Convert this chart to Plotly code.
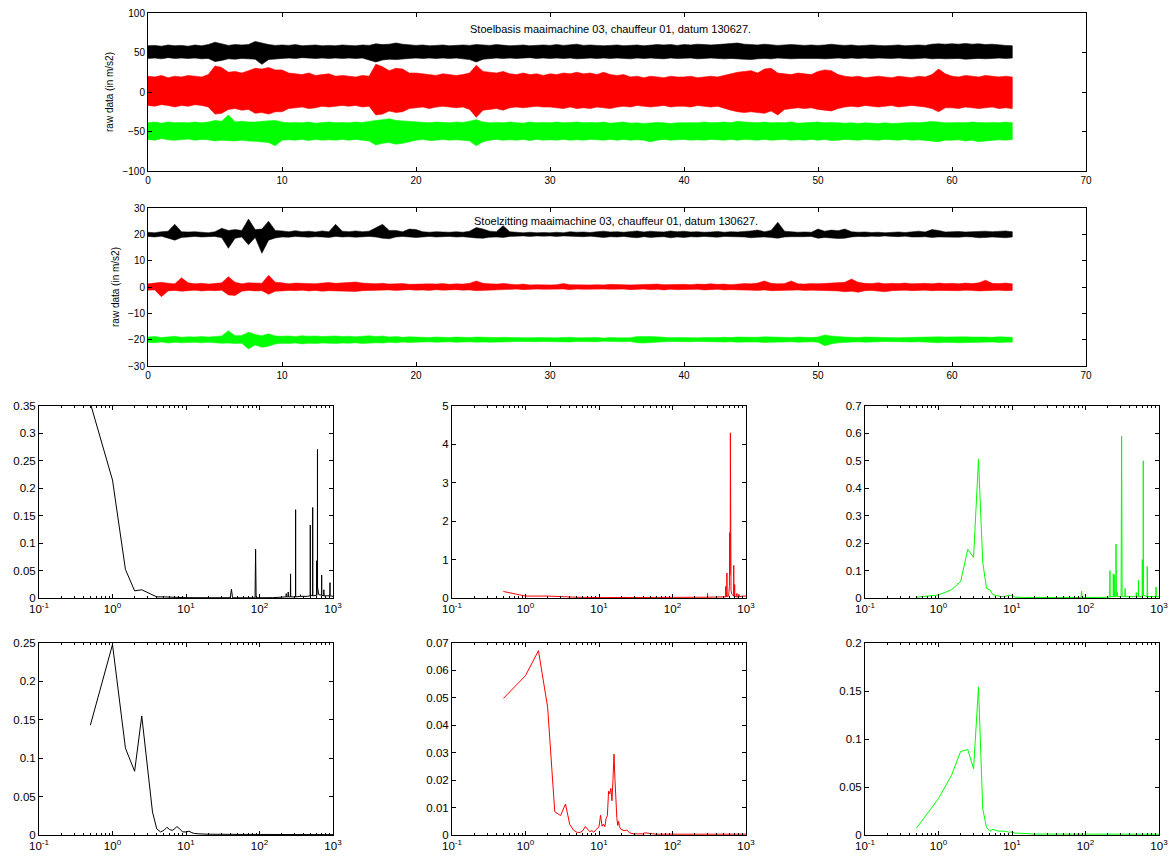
import plotly.graph_objects as go

# ---------------- time axis (sample times, s) ----------------
t_sec = [i / 2 for i in range(130)]  # 0 .. 64.5 s

# ---------------- panel 1: Stoelbasis, envelope (upper / lower) ----------------
bk_hi = [58.5, 59.0, 58.0, 59.5, 58.5, 59.0, 58.0, 59.5, 58.5, 60.0,
         63.0, 60.5, 59.0, 60.0, 59.5, 60.0, 64.0, 62.0, 60.0, 59.0,
         59.5, 59.0, 60.0, 58.5, 59.0, 59.5, 58.5, 59.0, 58.5, 59.5,
         59.0, 58.5, 59.5, 59.0, 61.0, 60.0, 60.5, 62.0, 60.5, 59.5,
         59.0, 59.5, 58.5, 59.0, 59.5, 58.5, 59.0, 59.5, 59.0, 60.0,
         59.5, 59.0, 60.0, 59.5, 58.5, 59.0, 59.5, 58.5, 59.0, 59.5,
         59.0, 60.0, 59.0, 59.5, 60.5, 59.0, 59.5, 59.0, 58.5, 59.0,
         59.5, 58.5, 59.0, 59.5, 58.5, 59.0, 60.0, 59.5, 60.0, 59.0,
         60.0, 59.5, 60.5, 60.0, 59.5, 60.0, 60.5, 61.0, 62.0, 60.5,
         60.0, 59.5, 60.5, 59.5, 59.0, 59.5, 60.0, 59.5, 59.0, 59.5,
         59.0, 59.5, 60.5, 59.5, 59.0, 59.5, 58.5, 59.0, 59.5, 59.0,
         58.5, 59.0, 59.5, 58.5, 59.0, 59.5, 59.0, 60.5, 61.0, 60.5,
         61.0, 60.5, 61.5, 60.5, 61.0, 60.0, 60.5, 59.5, 59.0, 58.5]
bk_lo = [42.5, 43.0, 42.0, 43.5, 42.5, 43.0, 42.5, 43.0, 42.0, 42.5,
         38.5, 40.0, 42.0, 41.5, 42.5, 42.0, 41.5, 35.0, 41.0, 42.0,
         42.5, 43.0, 42.5, 43.5, 43.0, 42.5, 43.0, 42.5, 43.0, 42.5,
         43.0, 42.5, 43.0, 41.0, 38.0, 40.5, 41.5, 41.0, 42.0, 42.5,
         43.0, 42.5, 43.0, 42.5, 43.0, 42.5, 43.0, 42.0, 41.0, 38.0,
         41.5, 42.5, 43.0, 42.5, 43.0, 42.5, 43.0, 43.5, 42.5, 43.0,
         42.5, 43.0, 42.5, 43.0, 42.0, 42.5, 43.0, 42.5, 43.0, 42.5,
         43.0, 42.5, 42.0, 43.0, 42.5, 43.0, 42.5, 42.0, 43.0, 42.5,
         42.5, 43.0, 42.0, 42.5, 43.0, 42.5, 42.0, 42.5, 42.0, 41.5,
         41.0, 42.0, 42.5, 42.0, 43.0, 42.5, 42.0, 42.5, 43.0, 42.5,
         42.5, 42.0, 42.5, 43.0, 42.5, 43.0, 42.5, 43.0, 42.5, 43.0,
         43.0, 42.5, 43.0, 42.5, 42.0, 42.5, 43.0, 42.0, 42.5, 42.0,
         42.0, 42.5, 41.5, 42.0, 42.5, 42.0, 42.5, 43.0, 42.5, 43.0]
rd_hi = [20, 19, 21, 18, 20, 19, 21, 20, 19, 22,
         33, 31, 25, 26, 24, 27, 30, 29, 31, 28,
         28, 24, 23, 22, 24, 21, 22, 23, 20, 21,
         20, 19, 21, 20, 35, 32, 27, 30, 29, 24,
         24, 23, 22, 21, 23, 22, 21, 22, 24, 34,
         26, 25, 24, 26, 23, 22, 24, 22, 23, 21,
         23, 22, 24, 23, 25, 23, 24, 22, 25, 22,
         21, 22, 19, 20, 18, 20, 19, 18, 20, 19,
         19, 20, 18, 19, 20, 19, 21, 23, 25, 26,
         27, 24, 29, 30, 24, 23, 22, 24, 23, 22,
         26, 28, 27, 22, 20, 19, 20, 18, 19, 20,
         19, 18, 20, 19, 18, 20, 19, 22, 29, 23,
         20, 19, 21, 20, 19, 21, 20, 19, 20, 19]
rd_lo = [-17, -18, -16, -17, -19, -17, -18, -16, -17, -19,
         -28, -27, -22, -21, -23, -22, -27, -26, -28, -25,
         -25, -21, -20, -19, -21, -20, -18, -19, -18, -17,
         -18, -17, -19, -18, -29, -28, -24, -26, -25, -21,
         -20, -19, -21, -19, -18, -19, -20, -19, -22, -32,
         -23, -22, -21, -23, -20, -19, -20, -19, -18, -19,
         -19, -20, -21, -19, -21, -20, -21, -19, -20, -21,
         -19, -18, -19, -17, -18, -19, -18, -17, -19, -18,
         -18, -19, -17, -18, -19, -18, -20, -23, -25, -26,
         -25, -26, -27, -24, -29, -22, -21, -20, -21, -20,
         -22, -23, -24, -21, -19, -18, -19, -17, -18, -19,
         -18, -17, -19, -18, -17, -18, -19, -21, -25, -20,
         -20, -21, -19, -20, -21, -20, -19, -21, -20, -21]
gr_hi = [-39, -38, -39.5, -38, -39, -38.5, -39, -38, -39, -38,
         -36, -37, -29, -38, -37, -38, -38, -37, -36.5, -36,
         -38, -39, -38.5, -39, -38, -39.5, -39, -38, -39, -38.5,
         -39, -38, -38.5, -37, -36, -35, -34, -36, -36.5, -37,
         -38, -38.5, -39, -38, -38.5, -39, -38, -38.5, -37, -35,
         -38, -39, -38.5, -39, -38, -39, -39.5, -38, -39, -38.5,
         -39, -38, -39, -38.5, -38, -39, -38.5, -39, -38, -39.5,
         -39, -38, -39.5, -39, -40, -39, -38.5, -39, -40, -39,
         -39, -38.5, -39, -38, -39, -38.5, -38, -39, -37, -38,
         -38.5, -39, -38, -39, -38.5, -39, -38, -39.5, -39, -38.5,
         -38, -39, -38.5, -39, -39.5, -39, -40, -39, -39.5, -40,
         -39, -40, -39.5, -39, -38.5, -39, -38, -37.5, -38, -39,
         -39, -38.5, -39, -38, -38.5, -39, -38.5, -39, -38, -39]
gr_lo = [-60, -61, -59, -60.5, -61, -60, -59.5, -61, -60, -60.5,
         -62, -61, -61.5, -62, -61, -62, -62.5, -63, -64, -68,
         -61, -60.5, -61, -60, -61.5, -60, -61, -60.5, -61, -60,
         -61, -60, -61, -62, -67, -65, -64, -66, -65, -63,
         -61, -60, -61.5, -61, -60, -61, -60.5, -61, -62, -68,
         -63, -61, -60, -61, -60.5, -61, -60, -61.5, -60, -61,
         -60.5, -61, -60, -61, -60.5, -61, -60, -60.5, -61, -60,
         -61, -60, -61, -60.5, -61, -63, -61, -60, -61, -60.5,
         -60, -61, -60.5, -61, -60, -60.5, -61, -60, -61, -60,
         -60.5, -61, -60, -61, -60.5, -60, -61, -60.5, -61, -60,
         -61, -60, -61.5, -61, -60, -60.5, -61, -60, -60.5, -61,
         -60, -60.5, -61, -60, -61, -60.5, -61, -62, -63, -61,
         -61, -60.5, -62, -61, -63, -62, -61, -60.5, -61, -60]

# ---------------- panel 2: Stoelzitting, envelope (upper / lower) ----------------
zbk_hi = [20.8, 20.6, 21.0, 21.2, 23.8, 21.0, 20.9, 21.0, 20.8, 20.6,
          21.0, 22.3, 21.5, 21.8, 21.5, 25.8, 21.8, 22.0, 25.0, 21.5,
          21.3, 21.0, 21.4, 21.0, 21.2, 20.9, 21.3, 21.0, 23.8, 21.2,
          21.0, 21.3, 21.0, 21.2, 22.5, 23.8, 21.5, 21.5, 21.0, 22.0,
          21.8, 21.0, 20.8, 21.0, 20.9, 20.8, 21.0, 20.8, 21.2, 22.6,
          22.0, 21.2, 21.0, 23.3, 21.0, 20.8, 20.6, 20.8, 20.6, 20.7,
          20.6, 20.8, 20.6, 21.0, 20.8, 20.9, 20.7, 21.0, 21.2, 20.9,
          21.0, 20.8, 21.1, 21.3, 20.9, 21.2, 21.0, 20.9, 21.3, 21.0,
          21.2, 20.9, 21.0, 20.8, 20.9, 21.1, 20.8, 21.0, 20.9, 21.0,
          21.3, 21.6, 21.0, 21.5, 24.6, 21.2, 20.9, 20.8, 20.9, 20.8,
          22.0, 21.2, 21.6, 21.4, 22.0, 21.0, 20.8, 20.9, 20.7, 20.8,
          20.6, 20.8, 20.9, 20.7, 21.0, 21.2, 20.9, 21.8, 21.5, 20.9,
          21.0, 21.1, 20.9, 21.0, 21.3, 21.2, 21.0, 21.1, 21.3, 21.0]
zbk_lo = [19.2, 19.0, 19.3, 18.5, 17.8, 18.8, 19.0, 19.2, 19.0, 19.1,
          19.2, 18.7, 14.7, 18.5, 19.0, 16.0, 18.8, 12.8, 17.8, 18.6,
          19.0, 18.9, 19.2, 19.0, 18.9, 19.1, 19.0, 18.8, 19.2, 19.0,
          19.1, 18.9, 19.0, 19.2, 19.0, 18.5, 18.3, 19.0, 19.2, 19.0,
          18.8, 19.1, 19.2, 19.0, 19.1, 19.2, 19.0, 19.1, 18.9, 18.6,
          18.5, 18.9, 19.0, 18.8, 19.2, 19.3, 19.4, 19.2, 19.4, 19.3,
          19.4, 19.2, 19.4, 19.3, 19.2, 19.1, 19.3, 19.0, 18.8, 19.1,
          19.0, 19.2, 18.9, 18.7, 19.1, 18.8, 19.0, 19.1, 18.7, 19.0,
          18.8, 19.1, 19.0, 19.2, 19.1, 18.9, 19.2, 19.0, 19.1, 19.0,
          18.7, 18.9, 19.0, 18.8, 18.5, 19.0, 19.1, 19.2, 19.1, 19.2,
          18.5, 18.8, 18.6, 18.4, 18.5, 19.0, 19.2, 19.1, 19.3, 19.2,
          19.4, 19.2, 19.1, 19.3, 19.0, 19.0, 19.1, 18.8, 19.0, 19.1,
          19.0, 18.9, 19.1, 19.0, 18.7, 18.8, 19.0, 18.9, 18.7, 19.0]
zrd_hi = [1.2, 1.5, 1.8, 1.4, 1.2, 3.5, 1.6, 1.2, 1.4, 1.1,
          1.3, 1.6, 3.9, 1.8, 1.2, 1.6, 1.5, 1.4, 4.5, 1.8,
          1.6, 1.2, 1.5, 1.4, 1.3, 1.2, 1.5, 1.7, 1.4, 1.5,
          1.8, 1.9, 1.5, 1.3, 1.2, 1.4, 1.1, 1.2, 1.3, 1.0,
          1.1, 1.3, 1.2, 1.1, 1.3, 1.0, 1.2, 1.1, 1.4, 2.3,
          1.4, 1.2, 1.1, 1.3, 1.0, 0.9, 1.1, 0.8, 0.9, 0.8,
          0.8, 0.9, 1.3, 0.9, 0.8, 0.9, 0.8, 0.9, 0.8, 1.0,
          0.9, 1.0, 0.8, 0.9, 1.0, 0.9, 1.1, 0.9, 1.0, 0.9,
          1.0, 0.9, 1.1, 1.0, 1.2, 1.0, 1.1, 0.9, 1.2, 1.3,
          1.2, 1.5, 2.3, 1.4, 1.2, 1.3, 2.3, 1.2, 1.1, 1.3,
          1.2, 1.4, 1.5, 1.6, 1.8, 3.0, 1.8, 1.4, 1.3, 1.6,
          1.2, 1.4, 1.3, 1.5, 1.2, 1.3, 1.4, 1.2, 1.5, 1.3,
          1.4, 1.2, 1.5, 1.3, 1.6, 2.6, 1.4, 1.3, 1.5, 1.2]
zrd_lo = [-1.2, -1.1, -3.7, -1.5, -1.3, -1.6, -1.4, -1.2, -1.5, -1.3,
          -1.4, -1.2, -3.0, -3.2, -1.6, -1.3, -1.5, -1.4, -2.8, -1.6,
          -1.5, -1.3, -1.4, -1.2, -1.5, -1.3, -1.6, -1.4, -1.3, -1.5,
          -1.6, -1.7, -1.4, -1.2, -1.3, -1.2, -1.1, -1.3, -1.2, -1.0,
          -1.2, -1.1, -1.3, -1.0, -1.2, -1.1, -1.0, -1.2, -1.1, -1.4,
          -1.3, -1.2, -1.0, -1.1, -0.9, -0.8, -1.0, -0.9, -0.8, -0.9,
          -0.8, -0.9, -0.8, -1.0, -0.8, -0.9, -0.8, -0.9, -0.8, -0.9,
          -0.9, -0.8, -1.0, -0.9, -0.8, -1.0, -0.9, -1.1, -0.9, -1.0,
          -0.9, -1.0, -0.9, -1.1, -1.0, -0.9, -1.1, -1.0, -1.2, -1.1,
          -1.2, -1.3, -1.1, -1.4, -1.2, -1.3, -1.2, -1.1, -1.3, -1.2,
          -1.3, -1.2, -1.4, -1.5, -1.8, -1.6, -2.0, -1.4, -1.3, -1.5,
          -1.8, -1.4, -1.3, -1.2, -1.4, -1.3, -1.2, -1.4, -1.3, -1.2,
          -1.3, -1.4, -1.2, -1.3, -1.5, -1.4, -1.3, -1.2, -1.4, -1.3]
zgr_hi = [-19.0, -18.8, -19.2, -18.9, -18.7, -19.1, -18.9, -19.0, -18.8, -19.0,
          -18.9, -18.6, -16.6, -18.5, -18.4, -17.2, -18.0, -18.5, -17.8, -18.6,
          -18.7, -18.6, -18.8, -18.5, -18.7, -18.6, -18.8, -18.7, -18.6, -18.8,
          -18.7, -18.9, -18.6, -18.5, -18.8, -18.6, -19.0, -18.8, -19.1, -18.9,
          -19.0, -19.1, -19.2, -19.0, -19.1, -19.2, -19.0, -19.1, -19.2, -19.0,
          -19.1, -19.0, -19.2, -19.1, -19.2, -19.3, -19.2, -19.3, -19.2, -19.3,
          -19.2, -19.3, -19.2, -19.1, -19.3, -19.2, -19.3, -19.2, -19.4, -19.2,
          -19.3, -19.2, -19.3, -18.8, -18.7, -18.8, -18.9, -19.2, -19.3, -19.2,
          -19.3, -19.2, -19.3, -19.2, -19.3, -19.2, -19.1, -19.2, -19.0, -19.1,
          -19.2, -19.1, -18.9, -19.0, -19.2, -19.1, -19.2, -19.0, -19.1, -19.2,
          -19.0, -18.2, -18.6, -18.9, -19.0, -19.1, -19.2, -19.0, -19.1, -19.2,
          -19.3, -19.2, -19.3, -19.2, -19.1, -19.2, -19.1, -19.0, -18.9, -19.0,
          -18.9, -18.8, -18.9, -19.0, -18.9, -19.0, -19.1, -18.9, -19.0, -19.1]
zgr_lo = [-21.0, -21.2, -20.9, -21.3, -21.0, -21.2, -21.1, -21.0, -21.2, -21.0,
          -21.1, -21.4, -21.3, -21.5, -21.4, -23.5, -22.0, -22.9, -22.5, -21.6,
          -21.4, -21.5, -21.3, -21.6, -21.4, -21.5, -21.3, -21.4, -21.5, -21.3,
          -21.4, -21.2, -21.5, -21.4, -21.2, -21.3, -21.0, -21.2, -20.9, -21.1,
          -21.0, -20.9, -20.8, -21.0, -20.9, -20.8, -21.0, -20.9, -20.8, -21.0,
          -20.9, -21.0, -20.8, -20.9, -20.8, -20.7, -20.8, -20.7, -20.8, -20.7,
          -20.8, -20.7, -20.8, -20.9, -20.7, -20.8, -20.7, -20.8, -20.6, -20.8,
          -20.7, -20.8, -20.7, -21.2, -21.3, -21.2, -21.0, -20.8, -20.7, -20.8,
          -20.7, -20.8, -20.7, -20.8, -20.7, -20.8, -20.9, -20.8, -21.0, -20.9,
          -20.8, -20.9, -21.1, -21.0, -20.8, -20.9, -20.8, -21.0, -20.9, -20.8,
          -21.0, -22.3, -21.6, -21.2, -21.0, -20.9, -20.8, -21.0, -20.9, -20.8,
          -20.7, -20.8, -20.7, -20.8, -20.9, -20.8, -20.9, -21.0, -21.2, -21.0,
          -21.1, -21.2, -21.1, -21.0, -21.1, -21.0, -20.9, -21.1, -21.0, -20.9]

# ---------------- spectra: Stoelbasis ----------------
bs_f = [0.5, 1.0, 1.5, 2.0, 2.5, 3.0, 3.5, 4.0, 5.0, 7.0,
        10, 20, 40, 41.5, 43, 60, 87, 88.5, 90, 150,
        200, 230, 231, 232, 245, 246, 247, 263, 264.5, 266,
        300, 309, 310, 311, 360, 361, 362, 450, 490, 491,
        492, 500, 501, 502, 528, 529.5, 531, 599, 600, 601,
        614, 615, 616, 640, 700, 701, 702, 750, 751, 752,
        850, 908, 910, 912, 1000]
bs_a = [0.355, 0.215, 0.052, 0.013, 0.015, 0.010, 0.005, 0.002, 0.002, 0.001,
        0.0006, 0.0005, 0.0005, 0.016, 0.0005, 0.0004, 0.0004, 0.089, 0.0004, 0.0006,
        0.001, 0.002, 0.008, 0.002, 0.002, 0.011, 0.002, 0.002, 0.044, 0.002,
        0.002, 0.002, 0.161, 0.002, 0.003, 0.006, 0.003, 0.003, 0.004, 0.133,
        0.004, 0.005, 0.080, 0.005, 0.004, 0.165, 0.004, 0.005, 0.068, 0.005,
        0.030, 0.271, 0.020, 0.006, 0.005, 0.042, 0.005, 0.004, 0.015, 0.004,
        0.004, 0.004, 0.028, 0.004, 0.003]
rs_f = [0.5, 1.0, 2.0, 3.0, 5.0, 10, 30, 100, 250, 299,
        300, 301, 500, 529, 530, 531, 549, 550, 551, 580,
        595, 600, 605, 610, 613, 616, 625, 640, 680, 681,
        682, 700, 701, 702, 740, 750, 751, 752, 800, 801,
        802, 900, 1000]
rs_a = [0.17, 0.05, 0.05, 0.03, 0.02, 0.01, 0.008, 0.01, 0.02, 0.02,
        0.12, 0.02, 0.03, 0.03, 0.30, 0.03, 0.04, 0.65, 0.04, 0.05,
        0.30, 1.70, 0.60, 1.00, 4.30, 0.80, 0.20, 0.10, 0.05, 0.85,
        0.05, 0.05, 0.35, 0.05, 0.03, 0.03, 0.12, 0.03, 0.03, 0.10,
        0.03, 0.05, 0.05]
gs_f = [0.5, 1.0, 1.5, 2.0, 2.5, 3.0, 3.5, 4.0, 4.5, 5.0,
        5.5, 6.0, 7.0, 8.0, 9.0, 10.0, 11.0, 15, 30, 60,
        87, 88.5, 90, 150, 200, 214, 215, 216, 238, 239,
        240, 245, 246, 247, 259, 260, 261, 262, 263, 270,
        271, 272, 305, 310, 315, 345, 346, 347, 480, 490,
        491, 492, 524, 525, 526, 592, 593, 594, 610, 611,
        612, 690, 691, 692, 700, 701, 702, 800, 911, 912,
        913, 1000]
gs_a = [0.003, 0.011, 0.03, 0.06, 0.177, 0.148, 0.505, 0.13, 0.035, 0.03,
        0.012, 0.01, 0.005, 0.005, 0.01, 0.01, 0.003, 0.002, 0.002, 0.002,
        0.002, 0.025, 0.002, 0.002, 0.003, 0.003, 0.10, 0.005, 0.005, 0.088,
        0.005, 0.005, 0.085, 0.005, 0.005, 0.197, 0.01, 0.12, 0.01, 0.005,
        0.02, 0.005, 0.005, 0.59, 0.005, 0.005, 0.035, 0.005, 0.005, 0.005,
        0.02, 0.005, 0.005, 0.065, 0.005, 0.005, 0.14, 0.005, 0.01, 0.50,
        0.01, 0.005, 0.115, 0.005, 0.005, 0.045, 0.005, 0.005, 0.005, 0.04,
        0.005, 0.005]

# ---------------- spectra: Stoelzitting ----------------
sb_f = [0.5, 1.0, 1.5, 2.0, 2.5, 3.0, 3.5, 4.0, 4.5, 5.0,
        5.5, 6.0, 6.5, 7.0, 7.5, 8.0, 8.5, 9.0, 10.0, 11.0,
        12.0, 13.0, 15.0, 20.0, 50.0, 100.0, 300.0, 1000.0]
sb_a = [0.143, 0.248, 0.113, 0.083, 0.155, 0.085, 0.03, 0.008, 0.004, 0.006,
        0.010, 0.007, 0.006, 0.008, 0.011, 0.009, 0.006, 0.004, 0.004, 0.005,
        0.003, 0.002, 0.0015, 0.001, 0.0008, 0.0006, 0.0005, 0.0005]
sr_f = [0.5, 1.0, 1.5, 2.0, 2.5, 3.0, 3.5, 4.0, 4.5, 5.0,
        5.5, 6.0, 6.5, 7.0, 7.5, 8.0, 8.5, 9.0, 9.5, 10.0,
        10.5, 11.0, 11.5, 12.0, 12.5, 13.0, 13.5, 14.0, 14.5, 15.0,
        15.5, 16.0, 16.5, 17.0, 17.5, 18.0, 18.5, 19.0, 20.0, 22.0,
        24.0, 26.0, 30.0, 40.0, 42.0, 60.0, 100.0, 300.0, 1000.0]
sr_a = [0.0498, 0.0581, 0.0672, 0.0466, 0.0085, 0.0071, 0.0113, 0.0038, 0.0018, 0.0010,
        0.0009, 0.0015, 0.0031, 0.0020, 0.0012, 0.0016, 0.0010, 0.0018, 0.0026, 0.0030,
        0.0072, 0.0032, 0.0040, 0.0030, 0.0060, 0.0070, 0.0160, 0.0150, 0.0170, 0.0125,
        0.0200, 0.0295, 0.0200, 0.0110, 0.0060, 0.0035, 0.0050, 0.0030, 0.0020, 0.0016,
        0.0018, 0.0008, 0.0004, 0.0004, 0.0008, 0.0003, 0.0003, 0.0003, 0.0003]
sg_f = [0.5, 1.0, 1.5, 2.0, 2.5, 3.0, 3.5, 4.0, 4.5, 5.0,
        5.5, 6.0, 6.5, 7.0, 8.0, 9.0, 10.0, 11.0, 12.0, 14.0,
        16.0, 20.0, 50.0, 100.0, 1000.0]
sg_a = [0.007, 0.038, 0.062, 0.087, 0.089, 0.069, 0.154, 0.027, 0.008, 0.004,
        0.006, 0.005, 0.004, 0.004, 0.004, 0.003, 0.003, 0.002, 0.002, 0.002,
        0.0015, 0.001, 0.0008, 0.0008, 0.0008]

# ---------------- labels ----------------
title1 = "Stoelbasis maaimachine 03, chauffeur 01, datum 130627."
title2 = "Stoelzitting maaimachine 03, chauffeur 01, datum 130627."
ylabel = "raw data (in m/s2)"
log_tickvals = [0.1, 1, 10, 100, 1000]
log_ticktext = ["10<sup>-1</sup>", "10<sup>0</sup>", "10<sup>1</sup>", "10<sup>2</sup>", "10<sup>3</sup>"]

BLACK, RED, GREEN = "#000000", "#ff0000", "#00ff00"
FONT = "Liberation Sans, Arial, Helvetica, sans-serif"

W, H = 1173, 859


def xdom(l, r):
    return [l / W, r / W]


def ydom(t, b):
    return [1 - b / H, 1 - t / H]


fig = go.Figure()


def band(t, hi, lo, color, ax, lw):
    fig.add_trace(go.Scatter(
        x=list(t) + list(t)[::-1], y=list(hi) + list(lo)[::-1],
        fill="toself", fillcolor=color, mode="lines",
        line=dict(color=color, width=lw), xaxis=ax[0], yaxis=ax[1],
        hoverinfo="skip", showlegend=False))


band(t_sec, bk_hi, bk_lo, BLACK, ("x", "y"), 0.6)
band(t_sec, rd_hi, rd_lo, RED, ("x", "y"), 0.6)
band(t_sec, gr_hi, gr_lo, GREEN, ("x", "y"), 0.6)
band(t_sec, zbk_hi, zbk_lo, BLACK, ("x2", "y2"), 0.5)
band(t_sec, zrd_hi, zrd_lo, RED, ("x2", "y2"), 0.5)
band(t_sec, zgr_hi, zgr_lo, GREEN, ("x2", "y2"), 0.5)

spectra = [(bs_f, bs_a, BLACK, 3), (rs_f, rs_a, RED, 4), (gs_f, gs_a, GREEN, 5),
           (sb_f, sb_a, BLACK, 6), (sr_f, sr_a, RED, 7), (sg_f, sg_a, GREEN, 8)]
for f, a, c, k in spectra:
    fig.add_trace(go.Scatter(x=f, y=a, mode="lines", line=dict(color=c, width=1),
                             xaxis=f"x{k}", yaxis=f"y{k}", showlegend=False))


def axstyle(size):
    return dict(showline=True, linecolor="black", linewidth=1, mirror="allticks",
                ticks="inside", ticklen=4, tickcolor="black", tickwidth=1,
                showgrid=False, zeroline=False, automargin=False,
                ticklabeloverflow="allow",
                tickfont=dict(family=FONT, size=size, color="black"))


top = axstyle(10)
bot = axstyle(11.5)

minor_vals = [m * 10 ** e for e in range(-1, 3) for m in range(2, 10)]

layout = dict(
    width=W, height=H, margin=dict(l=0, r=0, t=0, b=0, autoexpand=False),
    paper_bgcolor="white", plot_bgcolor="white", showlegend=False,
    font=dict(family=FONT, size=10, color="black"),
)
# top two time panels
layout["xaxis"] = dict(top, domain=xdom(148, 1086), range=[0, 70], dtick=10, tick0=0, anchor="y")
layout["yaxis"] = dict(top, domain=ydom(13, 171), range=[-100, 100], dtick=50, tick0=0, anchor="x",
                       title=dict(text=ylabel, font=dict(family=FONT, size=10), standoff=6))
layout["xaxis2"] = dict(top, domain=xdom(148, 1086), range=[0, 70], dtick=10, tick0=0, anchor="y2")
layout["yaxis2"] = dict(top, domain=ydom(208, 366), range=[-30, 30], dtick=10, tick0=0, anchor="x2",
                        title=dict(text=ylabel, font=dict(family=FONT, size=10), standoff=6))

cols = [(39, 333), (452, 746), (865, 1159)]
rows = [(406, 598), (643, 835)]
yranges = [[0, 0.35], [0, 5], [0, 0.7], [0, 0.25], [0, 0.07], [0, 0.2]]
ydticks = [0.05, 1, 0.1, 0.05, 0.01, 0.05]
k = 3
for r, (yt, yb) in enumerate(rows):
    for c, (xl, xr) in enumerate(cols):
        idx = r * 3 + c
        layout[f"xaxis{k}"] = dict(bot, type="log", domain=xdom(xl, xr), range=[-1, 3],
                                   tickmode="array", tickvals=log_tickvals, ticktext=log_ticktext,
                                   minor=dict(tickmode="array", tickvals=minor_vals, ticks="inside",
                                              ticklen=2, tickcolor="black", showgrid=False),
                                   anchor=f"y{k}")
        layout[f"yaxis{k}"] = dict(bot, domain=ydom(yt, yb), range=yranges[idx],
                                   dtick=ydticks[idx], tick0=0, anchor=f"x{k}")
        k += 1

fig.update_layout(**layout)

fig.add_annotation(text=title1, xref="x domain", yref="y domain", x=0.4936, y=0.899,
                   xanchor="center", yanchor="middle", showarrow=False,
                   font=dict(family=FONT, size=11, color="black"))
fig.add_annotation(text=title2, xref="x2 domain", yref="y2 domain", x=0.499, y=0.918,
                   xanchor="center", yanchor="middle", showarrow=False,
                   font=dict(family=FONT, size=11, color="black"))

# remove the browser's default page margin so the figure sits at (0, 0)
page_fix = ("document.body.style.margin='0';"
            "document.documentElement.style.overflow='hidden';"
            "document.body.style.overflow='hidden';")

fig.write_html("out.html", post_script=page_fix,
               config={"displayModeBar": False, "staticPlot": True})
